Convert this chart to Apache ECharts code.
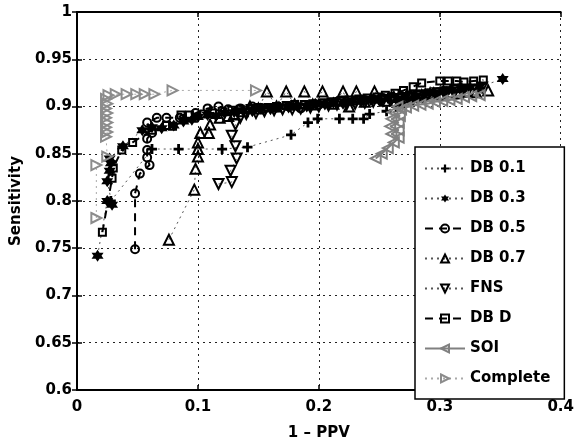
<!DOCTYPE html>
<html><head><meta charset="utf-8">
<script src="https://cdn.jsdelivr.net/npm/echarts@6/dist/echarts.min.js"></script>
<style>html,body{margin:0;padding:0;background:#fff}#c{width:577px;height:446px}</style>
</head><body><div id="c"></div>
<script>
const seriesNames = ['DB 0.1','DB 0.3','DB 0.5','DB 0.7','FNS','DB D','SOI','Complete'];
const xTicks = [0, 0.1, 0.2, 0.3, 0.4];
const yTicks = [0.6, 0.65, 0.7, 0.75, 0.8, 0.85, 0.9, 0.95, 1];

const db01 = [[0.028,0.800],[0.062,0.855],[0.084,0.855],[0.120,0.855],[0.141,0.857],[0.177,0.870],[0.191,0.883],[0.199,0.887],[0.217,0.887],[0.228,0.887],[0.237,0.887],[0.242,0.892],[0.256,0.895],[0.264,0.900],[0.270,0.904],[0.278,0.907],[0.286,0.909],[0.295,0.912],[0.305,0.916],[0.318,0.919]];
const db03 = [[0.017,0.742],[0.025,0.800],[0.029,0.796],[0.025,0.821],[0.027,0.832],[0.028,0.840],[0.027,0.845],[0.038,0.858],[0.054,0.875],[0.062,0.878],[0.070,0.877],[0.080,0.880],[0.088,0.884],[0.095,0.886],[0.100,0.889],[0.108,0.891],[0.115,0.890],[0.122,0.893],[0.130,0.894],[0.137,0.896],[0.145,0.895],[0.152,0.898],[0.160,0.897],[0.167,0.900],[0.175,0.899],[0.182,0.901],[0.190,0.900],[0.197,0.903],[0.205,0.902],[0.212,0.904],[0.220,0.903],[0.228,0.906],[0.235,0.905],[0.243,0.907],[0.250,0.906],[0.257,0.909],[0.265,0.908],[0.272,0.911],[0.280,0.912],[0.288,0.914],[0.295,0.915],[0.303,0.917],[0.310,0.918],[0.318,0.919],[0.325,0.920],[0.333,0.921],[0.352,0.929]];
const db05 = [[0.048,0.749],[0.048,0.808],[0.052,0.829],[0.060,0.838],[0.058,0.846],[0.058,0.854],[0.058,0.866],[0.062,0.872],[0.058,0.883],[0.066,0.888],[0.074,0.888],[0.085,0.888],[0.098,0.893],[0.108,0.898],[0.117,0.900],[0.125,0.897],[0.135,0.898],[0.145,0.900],[0.155,0.898],[0.165,0.899],[0.175,0.900],[0.185,0.898],[0.193,0.901],[0.200,0.902],[0.208,0.903],[0.215,0.905],[0.223,0.905],[0.230,0.906],[0.238,0.907],[0.245,0.908],[0.253,0.909],[0.260,0.910],[0.268,0.911],[0.275,0.912],[0.283,0.913],[0.290,0.914],[0.298,0.915],[0.305,0.916],[0.318,0.918]];
const db07 = [[0.076,0.759],[0.097,0.812],[0.098,0.834],[0.100,0.847],[0.100,0.855],[0.100,0.862],[0.102,0.872],[0.109,0.872],[0.110,0.881],[0.118,0.888],[0.125,0.890],[0.130,0.892],[0.137,0.895],[0.143,0.900],[0.150,0.898],[0.157,0.916],[0.165,0.900],[0.173,0.916],[0.180,0.902],[0.188,0.916],[0.195,0.902],[0.203,0.916],[0.212,0.903],[0.220,0.916],[0.225,0.900],[0.231,0.916],[0.238,0.905],[0.246,0.916],[0.255,0.906],[0.262,0.910],[0.270,0.908],[0.278,0.910],[0.285,0.912],[0.292,0.914],[0.300,0.913],[0.308,0.915],[0.315,0.914],[0.322,0.916],[0.330,0.915],[0.340,0.917]];
const fns = [[0.117,0.818],[0.128,0.820],[0.127,0.832],[0.132,0.845],[0.131,0.858],[0.128,0.869],[0.131,0.881],[0.135,0.888],[0.140,0.892],[0.148,0.893],[0.155,0.895],[0.163,0.896],[0.170,0.897],[0.178,0.897],[0.185,0.898],[0.193,0.899],[0.200,0.900],[0.208,0.901],[0.215,0.902],[0.223,0.902],[0.230,0.903],[0.238,0.904],[0.245,0.905],[0.253,0.906],[0.260,0.907],[0.268,0.908],[0.275,0.909],[0.283,0.911],[0.290,0.912],[0.298,0.914],[0.305,0.915],[0.313,0.917],[0.320,0.918],[0.335,0.920]];
const dbD = [[0.021,0.767],[0.029,0.824],[0.030,0.835],[0.037,0.854],[0.046,0.862],[0.062,0.875],[0.074,0.880],[0.079,0.879],[0.086,0.891],[0.093,0.891],[0.105,0.892],[0.112,0.893],[0.120,0.895],[0.128,0.896],[0.135,0.897],[0.143,0.898],[0.150,0.899],[0.158,0.899],[0.165,0.900],[0.173,0.901],[0.180,0.902],[0.188,0.902],[0.195,0.903],[0.203,0.904],[0.210,0.905],[0.218,0.906],[0.225,0.907],[0.233,0.908],[0.240,0.909],[0.248,0.910],[0.255,0.912],[0.263,0.914],[0.270,0.917],[0.278,0.921],[0.285,0.925],[0.300,0.927],[0.307,0.927],[0.314,0.927],[0.320,0.926],[0.328,0.927],[0.336,0.928]];
const soi = [[0.247,0.845],[0.252,0.850],[0.257,0.856],[0.262,0.862],[0.266,0.867],[0.260,0.871],[0.266,0.875],[0.259,0.879],[0.266,0.883],[0.260,0.887],[0.267,0.890],[0.261,0.894],[0.268,0.897],[0.265,0.900],[0.272,0.899],[0.278,0.901],[0.284,0.902],[0.290,0.903],[0.296,0.905],[0.302,0.906],[0.308,0.907],[0.314,0.908],[0.320,0.910],[0.326,0.911],[0.333,0.912]];
const complete = [[0.016,0.782],[0.016,0.838],[0.025,0.847],[0.024,0.868],[0.025,0.873],[0.024,0.878],[0.025,0.883],[0.024,0.888],[0.025,0.893],[0.024,0.898],[0.025,0.903],[0.024,0.908],[0.026,0.912],[0.032,0.913],[0.041,0.913],[0.049,0.913],[0.056,0.913],[0.064,0.913],[0.079,0.917],[0.148,0.917]];

const FONT = 'DejaVu Sans';
const PLUS = 'path://M3.6,0H6.4V3.6H10V6.4H6.4V10H3.6V6.4H0V3.6H3.6Z';
const HEX = 'path://M5,0L9.33,7.5L0.67,7.5Z M5,10L0.67,2.5L9.33,2.5Z';
const TDOWN = 'path://M0,0L10,0L5,9Z';
const TLEFT = 'path://M0,5L9,0L9,10Z';
const TRIGHT = 'path://M0,0L9,5L0,10Z';
const DOT = [2, 4];
const DASH = [8, 6];

function mk(name, data, symbol, size, filled, color, lineType, lineWidth, lineColor) {
  return {
    name, type: 'line', data, symbol, symbolSize: size,
    color: color,
    itemStyle: filled ? {color: color, borderWidth: 0} : {color: 'rgba(0,0,0,0)', borderColor: color, borderWidth: 2},
    lineStyle: {color: lineColor || color, type: lineType, width: lineWidth},
    emphasis: {disabled: true}, animation: false
  };
}

const series = [
  mk(seriesNames[0], db01, PLUS, 10, true, '#000', DOT, 1, '#555'),
  mk(seriesNames[1], db03, HEX, 12, true, '#000', DOT, 1, '#555'),
  mk(seriesNames[2], db05, 'circle', 8, false, '#000', DASH, 2),
  mk(seriesNames[3], db07, 'triangle', 10, false, '#000', DOT, 1, '#555'),
  mk(seriesNames[4], fns, TDOWN, 10, false, '#000', DOT, 1, '#555'),
  mk(seriesNames[5], dbD, 'rect', 7, false, '#000', DASH, 2),
  mk(seriesNames[6], soi, TLEFT, 10, false, '#808080', 'solid', 2),
  mk(seriesNames[7], complete, TRIGHT, 10, false, '#8c8c8c', DOT, 1, '#aaa')
];

const axisLineStyle = {lineStyle: {color: '#000', width: 2}};
const labelStyle = {color: '#000', fontFamily: FONT, fontWeight: 'bold', fontSize: 15};

const chart = echarts.init(document.getElementById('c'), null, {renderer: 'canvas'});
chart.setOption({
  animation: false,
  backgroundColor: '#fff',
  grid: {left: 77, right: 12, top: 12, bottom: 48, containLabel: false},
  xAxis: [{
    type: 'value', min: xTicks[0], max: xTicks[xTicks.length-1], interval: 0.1,
    name: '1 – PPV', nameLocation: 'middle', nameGap: 36,
    nameTextStyle: {color: '#000', fontFamily: FONT, fontWeight: 'bold', fontSize: 15},
    axisLine: axisLineStyle,
    axisTick: {inside: true, length: 5, lineStyle: {color: '#000', width: 1.5}},
    axisLabel: Object.assign({margin: 10, formatter: v => String(+v.toFixed(2))}, labelStyle),
    splitLine: {show: true, lineStyle: {color: '#222', type: DOT, width: 1}}
  }, {
    type: 'value', position: 'top', min: xTicks[0], max: xTicks[xTicks.length-1], interval: 0.1,
    axisLine: axisLineStyle,
    axisTick: {inside: true, length: 5, lineStyle: {color: '#000', width: 1.5}},
    axisLabel: {show: false}, splitLine: {show: false}
  }],
  yAxis: [{
    type: 'value', min: yTicks[0], max: yTicks[yTicks.length-1], interval: 0.05,
    name: 'Sensitivity', nameLocation: 'middle', nameGap: 47,
    nameTextStyle: {color: '#000', fontFamily: FONT, fontWeight: 'bold', fontSize: 15},
    axisLine: axisLineStyle,
    axisTick: {inside: true, length: 5, lineStyle: {color: '#000', width: 1.5}},
    axisLabel: Object.assign({margin: 5, formatter: v => String(+v.toFixed(2))}, labelStyle),
    splitLine: {show: true, lineStyle: {color: '#222', type: DOT, width: 1}}
  }, {
    type: 'value', position: 'right', min: yTicks[0], max: yTicks[yTicks.length-1], interval: 0.05,
    axisLine: axisLineStyle,
    axisTick: {inside: true, length: 5, lineStyle: {color: '#000', width: 1.5}},
    axisLabel: {show: false}, splitLine: {show: false}
  }],
  legend: {
    orient: 'vertical', left: 415, top: 147,
    data: seriesNames,
    itemWidth: 40, itemHeight: 10, itemGap: 15,
    padding: [14, 14, 13, 9],
    backgroundColor: '#fff', borderColor: '#000', borderWidth: 1.5,
    textStyle: {color: '#000', fontFamily: FONT, fontWeight: 'bold', fontSize: 15},
    selectedMode: false
  },
  series: series
});
</script></body></html>
